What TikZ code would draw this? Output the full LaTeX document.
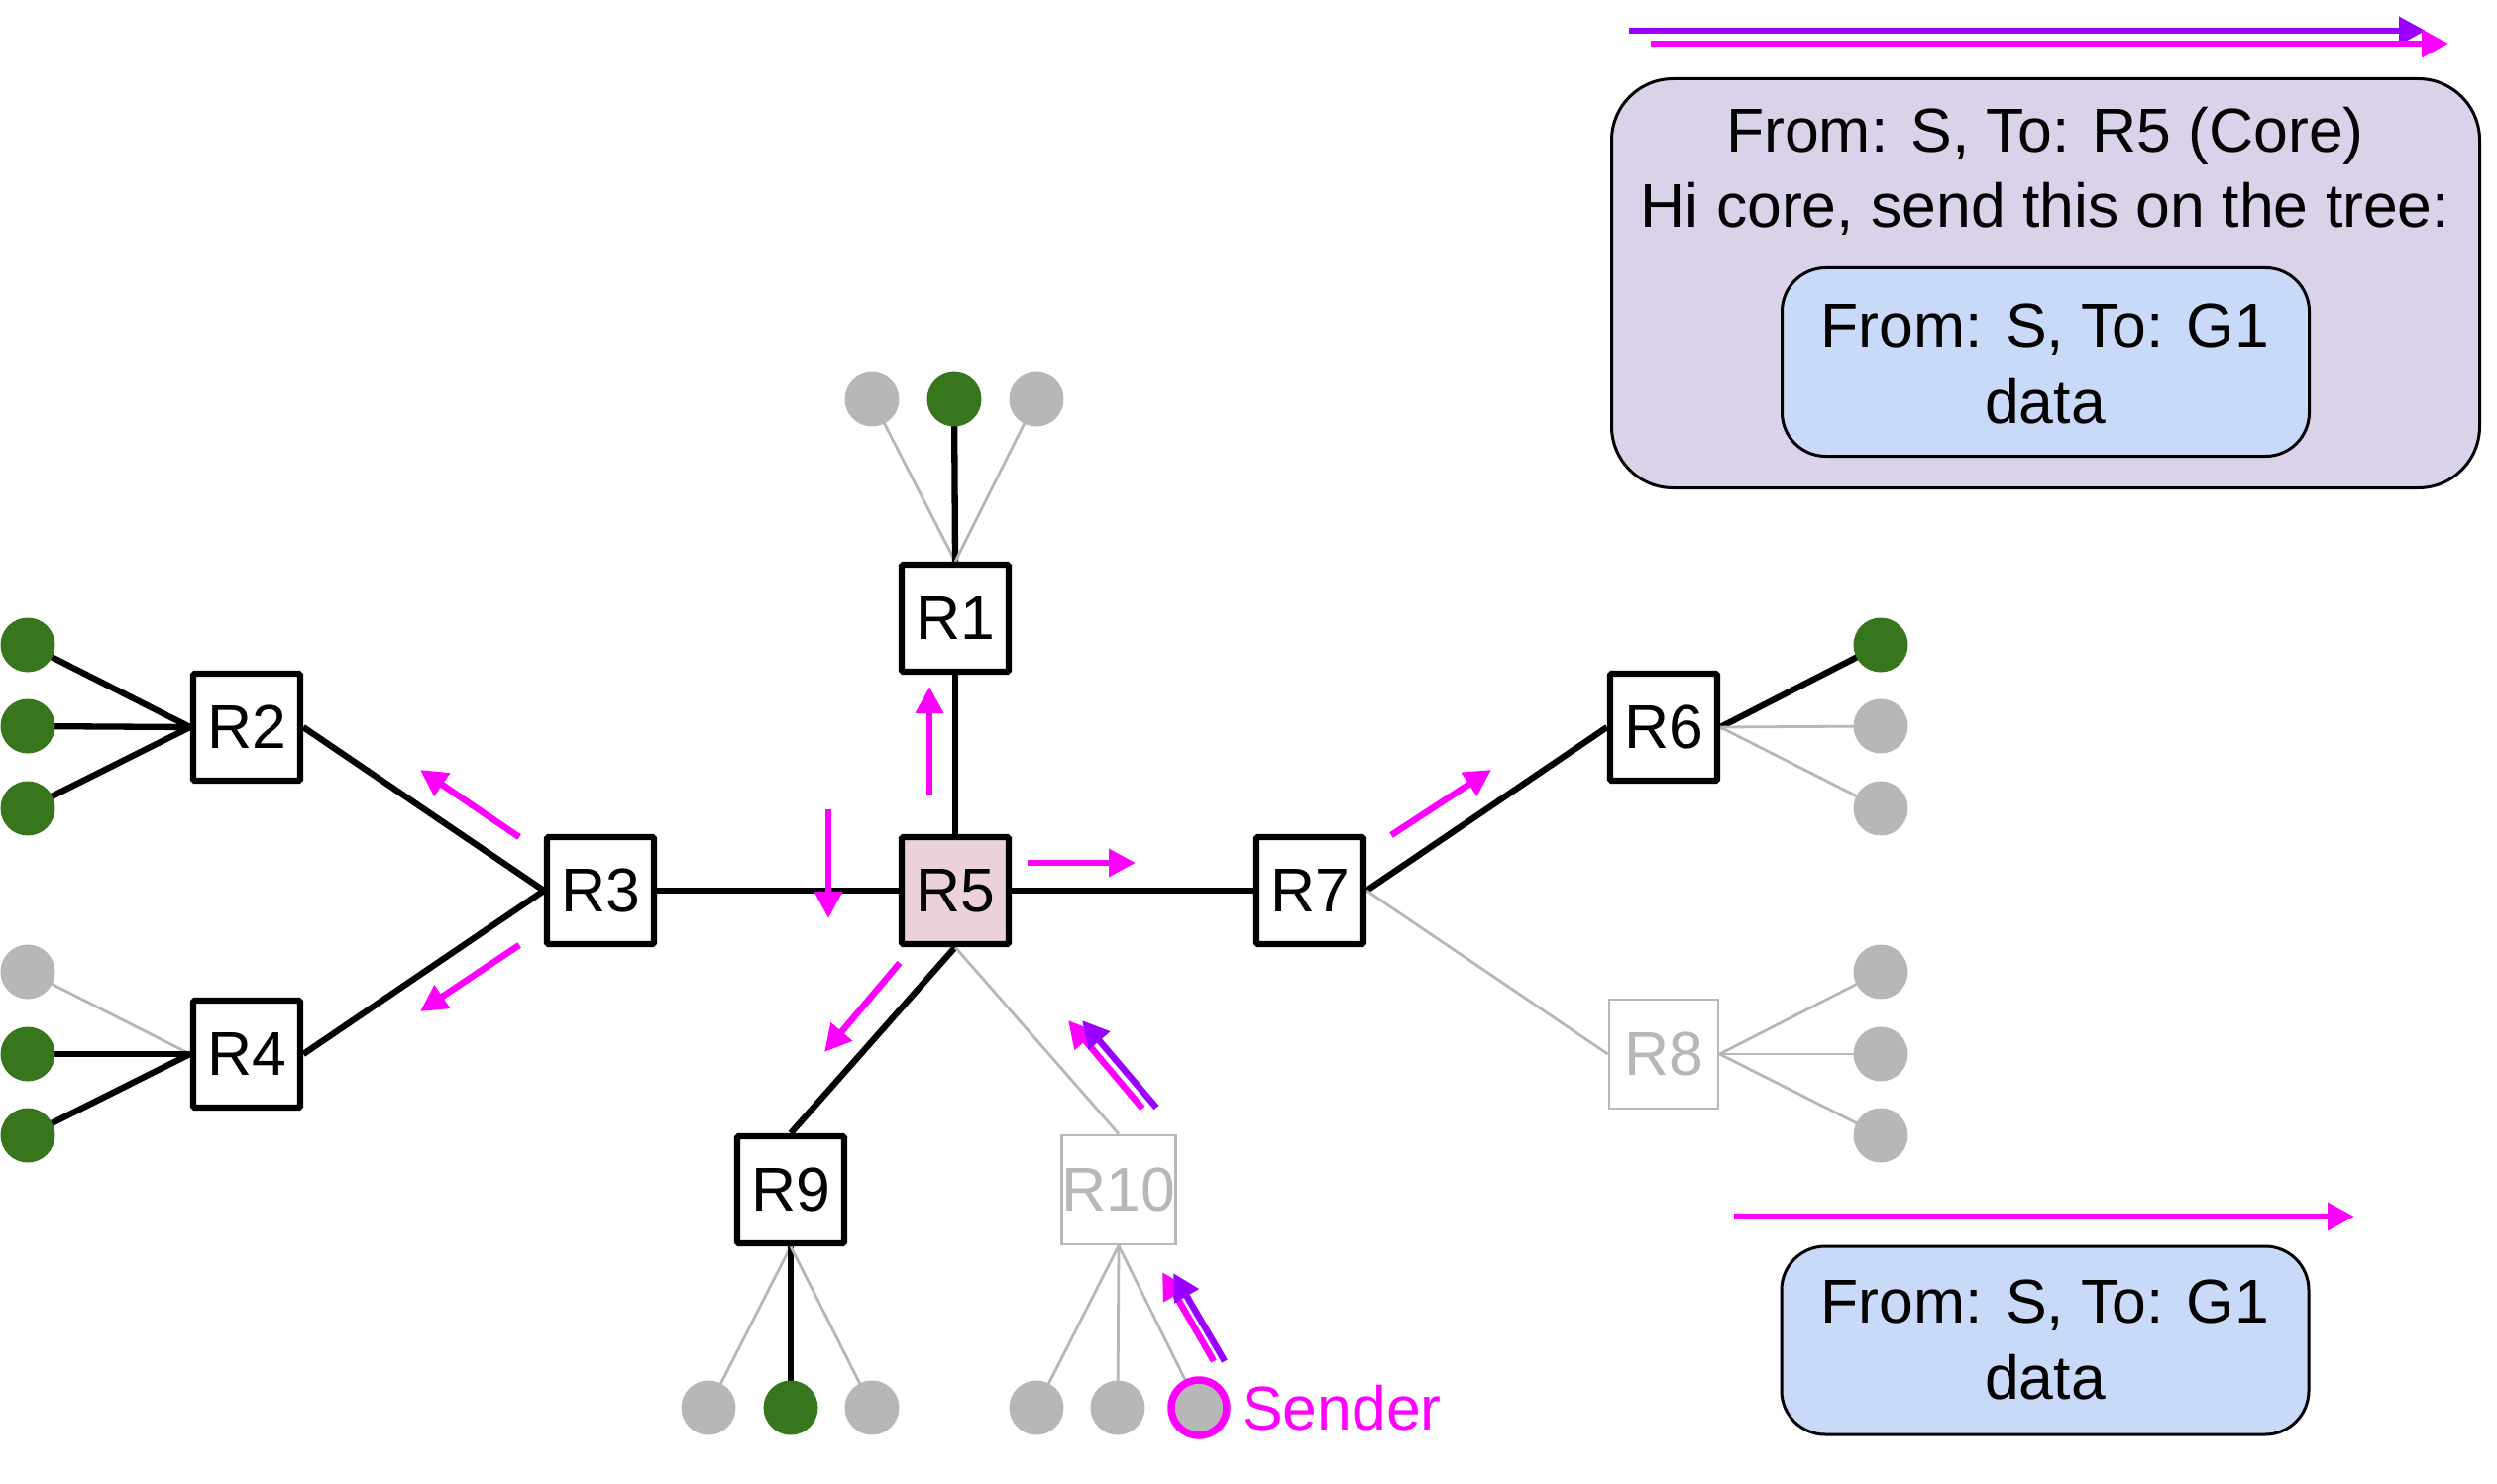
\documentclass[tikz,border=0pt]{standalone}
\usepackage{fontspec}
\setmainfont{Liberation Sans}
\usetikzlibrary{arrows.meta,backgrounds}
\definecolor{mag}{HTML}{FF00FF}
\definecolor{purp}{HTML}{9900FF}
\definecolor{hostgreen}{HTML}{38761D}
\definecolor{lgrey}{HTML}{B7B7B7}
\definecolor{corefill}{HTML}{EAD1DC}
\definecolor{lav}{HTML}{D9D2E9}
\definecolor{pktblue}{HTML}{C9DAF8}
\begin{document}
\begin{tikzpicture}[x=1pt,y=-1pt,
  font=\fontsize{62.5}{76}\selectfont,
  router/.style={draw=black, line width=6.2pt, fill=white, minimum size=108pt, inner sep=0pt, rounded corners=1.5pt},
  grouter/.style={draw=lgrey, line width=2.8pt, fill=white, text=lgrey, minimum size=110pt, inner sep=0pt},
  live/.style={line width=6.3pt, black},
  dead/.style={line width=2.8pt, lgrey},
  gh/.style={circle, fill=hostgreen, minimum size=55pt, inner sep=0pt},
  hh/.style={circle, fill=lgrey, minimum size=55pt, inner sep=0pt},
  flow/.style={line width=6.5pt, mag, -{Triangle[length=27pt,width=27pt]}},
  pflow/.style={line width=6.5pt, purp, -{Triangle[length=27pt,width=27pt]}},
  txt/.style={anchor=base, inner sep=0pt},
  pkt/.style={draw=black, line width=3pt, fill=pktblue, rounded corners=44pt, minimum width=532pt, minimum height=190pt},
  encap/.style={draw=black, line width=3pt, fill=lav, rounded corners=62pt, minimum width=876pt, minimum height=413pt}
]
\useasboundingbox (0,0) rectangle (2520,1498);

% routers
\node[router] (R1) at (964,624) {R1};
\node[router] (R2) at (249,734) {R2};
\node[router] (R3) at (606,899) {R3};
\node[router] (R4) at (249,1064) {R4};
\node[router, fill=corefill] (R5) at (964,899) {R5};
\node[router] (R6) at (1679,734) {R6};
\node[router] (R7) at (1322,899) {R7};
\node[grouter] (R8) at (1679,1064) {R8};
\node[router] (R9) at (798,1201) {R9};
\node[grouter] (R10) at (1129,1201) {R10};

% hosts
\node[hh] (h1a) at (880,403) {};
\node[gh] (h1b) at (963,403) {};
\node[hh] (h1c) at (1046,403) {};
\node[gh] (h2a) at (28,651) {};
\node[gh] (h2b) at (28,733) {};
\node[gh] (h2c) at (28,816) {};
\node[hh] (h4a) at (28,981) {};
\node[gh] (h4b) at (28,1064) {};
\node[gh] (h4c) at (28,1146) {};
\node[gh] (h6a) at (1898,651) {};
\node[hh] (h6b) at (1898,733) {};
\node[hh] (h6c) at (1898,816) {};
\node[hh] (h8a) at (1898,981) {};
\node[hh] (h8b) at (1898,1064) {};
\node[hh] (h8c) at (1898,1146) {};
\node[hh] (h9a) at (715,1421) {};
\node[gh] (h9b) at (798,1421) {};
\node[hh] (h9c) at (880,1421) {};
\node[hh] (h10a) at (1046,1421) {};
\node[hh] (h10b) at (1128,1421) {};
\node[hh, draw=mag, line width=7.5pt, minimum size=56pt] (snd) at (1210,1421) {};
\node[anchor=base west, inner sep=0pt, text=mag] (sndlbl) at (1253,1443) {Sender};

% links
\begin{scope}[on background layer]
\draw[live] (R5.north) -- (R1.south);
\draw[live] (R3.east) -- (R5.west);
\draw[live] (R5.east) -- (R7.west);
\draw[live] (R3.west) -- (R2.east);
\draw[live] (R3.west) -- (R4.east);
\draw[live] (R7.east) -- (R6.west);
\draw[dead] (R7.east) -- (R8.west);
\draw[live] (R5.south) -- (R9.north);
\draw[dead] (R5.south) -- (R10.north);
\draw[dead] (R1.north) -- (h1a.center);
\draw[live] (R1.north) -- (h1b.center);
\draw[dead] (R1.north) -- (h1c.center);
\draw[live] (R2.west) -- (h2a.center);
\draw[live] (R2.west) -- (h2b.center);
\draw[live] (R2.west) -- (h2c.center);
\draw[dead] (R4.west) -- (h4a.center);
\draw[live] (R4.west) -- (h4b.center);
\draw[live] (R4.west) -- (h4c.center);
\draw[live] (R6.east) -- (h6a.center);
\draw[dead] (R6.east) -- (h6b.center);
\draw[dead] (R6.east) -- (h6c.center);
\draw[dead] (R8.east) -- (h8a.center);
\draw[dead] (R8.east) -- (h8b.center);
\draw[dead] (R8.east) -- (h8c.center);
\draw[dead] (R9.south) -- (h9a.center);
\draw[live] (R9.south) -- (h9b.center);
\draw[dead] (R9.south) -- (h9c.center);
\draw[dead] (R10.south) -- (h10a.center);
\draw[dead] (R10.south) -- (h10b.center);
\draw[dead] (R10.south) -- (snd.center);
\end{scope}

% flow arrows
\coordinate (a1s) at (1037,871); \coordinate (a1e) at (1146,871);
\coordinate (a2s) at (836,817);  \coordinate (a2e) at (836,927);
\coordinate (a3s) at (908,972);  \coordinate (a3e) at (832,1062);
\coordinate (a4s) at (938,803);  \coordinate (a4e) at (938,693);
\coordinate (a5s) at (524,845);  \coordinate (a5e) at (424,777);
\coordinate (a6s) at (524,954);  \coordinate (a6e) at (424,1021);
\coordinate (a7s) at (1404,843); \coordinate (a7e) at (1505,777);
\draw[flow] (a1s) -- (a1e);
\draw[flow] (a2s) -- (a2e);
\draw[flow] (a3s) -- (a3e);
\draw[flow] (a4s) -- (a4e);
\draw[flow] (a5s) -- (a5e);
\draw[flow] (a6s) -- (a6e);
\draw[flow] (a7s) -- (a7e);

\coordinate (b1ms) at (1153,1119); \coordinate (b1me) at (1078,1030);
\coordinate (b1ps) at (1167,1118); \coordinate (b1pe) at (1092,1030);
\coordinate (b2ms) at (1225,1374); \coordinate (b2me) at (1173,1284);
\coordinate (b2ps) at (1236,1374); \coordinate (b2pe) at (1184,1285);
\draw[flow] (b1ms) -- (b1me);
\draw[pflow] (b1ps) -- (b1pe);
\draw[flow] (b2ms) -- (b2me);
\draw[pflow] (b2ps) -- (b2pe);

% legend arrows
\coordinate (tps) at (1644,31); \coordinate (tpe) at (2448,31);
\coordinate (tms) at (1666,44); \coordinate (tme) at (2471,44);
\draw[pflow] (tps) -- (tpe);
\draw[flow] (tms) -- (tme);
\coordinate (bms) at (1750,1228); \coordinate (bme) at (2376,1228);
\draw[flow] (bms) -- (bme);

% encapsulated packet
\node[encap] (outer) at (2064.5,286) {};
\node[txt] (t1) at (2064,154) {From: S, To: R5 (Core)};
\node[txt] (t2) at (2064,230) {Hi core, send this on the tree:};
\node[pkt] (inner) at (2064.5,365.5) {};
\node[txt] (t3) at (2064,350) {From: S, To: G1};
\node[txt] (t4) at (2064,427) {data};

% plain packet
\node[pkt] (plain) at (2064,1353) {};
\node[txt] (t5) at (2064,1335) {From: S, To: G1};
\node[txt] (t6) at (2064,1412) {data};
\end{tikzpicture}
\end{document}
